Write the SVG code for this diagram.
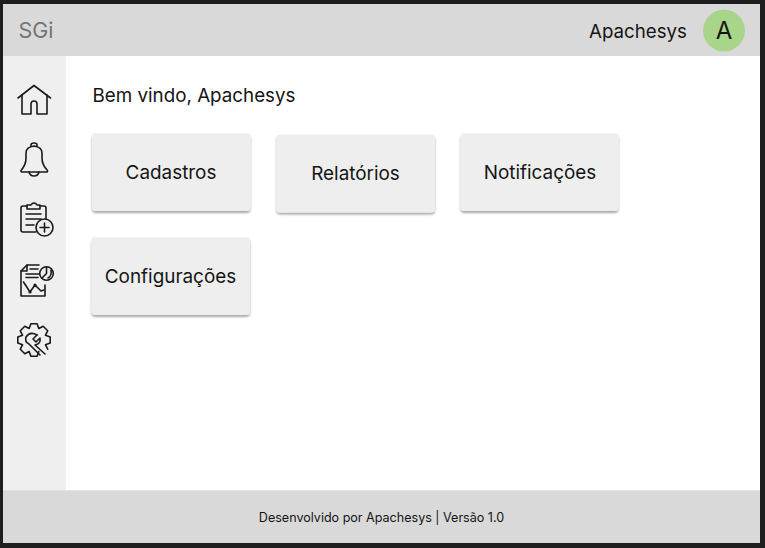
<svg xmlns="http://www.w3.org/2000/svg" width="765" height="548" viewBox="0 0 765 548">
<defs>
<filter id="sh" x="-5%" y="-5%" width="110%" height="115%"><feDropShadow dx="0" dy="2" stdDeviation="0.9" flood-color="#000" flood-opacity="0.34"/></filter>
</defs>
<style>
text{font-family:Inter,"Liberation Sans",sans-serif;fill:#151515}
.btn{fill:#eeeeee;filter:url(#sh)}
.lbl{font-size:18.900px;text-anchor:middle}
.ic{fill:none;stroke:#1a1a1a;stroke-width:1.6;stroke-linecap:round;stroke-linejoin:round}
</style>
<rect width="765" height="548" fill="#1e1e1e"/>
<rect x="3" y="4" width="757" height="539" fill="#fff"/>
<g id="sidebar"><rect x="3" y="56" width="63" height="435" fill="#efefef"/></g>
<g id="header">
<rect x="3" y="4" width="757" height="52" fill="#d9d9d9"/>
<text x="18.500" y="38" font-size="21.500" style="fill:#757575">SGi</text>
<text x="589" y="38" font-size="18.700">Apachesys</text>
<circle cx="724" cy="30.500" r="21" fill="#a9d58a"/>
<text x="724" y="39" font-size="24" text-anchor="middle">A</text>
</g>
<g id="footer">
<rect x="3" y="490" width="757" height="53" fill="#d9d9d9"/>
<rect x="3" y="490" width="757" height="1" fill="#e3e3e3"/>
<text x="381.500" y="522" font-size="12.550" text-anchor="middle">Desenvolvido por Apachesys | Versão 1.0</text>
</g>
<text id="welcome" x="92.500" y="101.500" font-size="18.800">Bem vindo, Apachesys</text>
<g id="icon-home" class="ic">
<path d="M18 98 L34 85.500 L50.500 98"/>
<path d="M22 95 V114 H31 V104 Q31 101 34 101 Q37 101 37 104 V114 H47 V95"/>
</g>
<g id="icon-bell" class="ic">
<path d="M21 170.500 Q26 165 26 158 V153 Q26 147 34 146 Q42 147 42 153 V158 Q42 165 47.500 170.500 Q48 172 46 172 H23 Q20.500 172 21 170.500Z"/>
<path d="M31 146 V145 Q31 143 34 143 Q37 143 37 145 V146"/>
<path d="M29 172 Q30 176 34 176 Q38 176 39 172"/>
</g>
<g id="icon-clipboard" class="ic">
<path d="M36 232 H23 Q21 232 21 230 V208 Q21 206 23 206 H27 M40 206 H44 Q46 206 46 208 V219"/>
<path d="M27 209 V205 H31 Q32 203 34 203 Q36 203 37 205 H40 V209 Z"/>
<path d="M26 214 H41 M26 219 H41 M26 225 H34"/>
<circle cx="44.500" cy="227.500" r="8.500"/>
<path d="M44.500 223 V232 M40 227.500 H49"/>
</g>
<g id="icon-report" class="ic">
<path d="M39 265 H27 L21 271 V296 H45 V285"/>
<path d="M21 271 H27 V265"/>
<path d="M30 269 H38 M26 274 H39 M26 277.500 H38"/>
<path d="M23.500 282 L30 292 L35 285 L41 291 L44 290"/>
<circle cx="30" cy="292" r="0.800"/>
<circle cx="35" cy="285" r="0.800"/>
<circle cx="46.500" cy="273.500" r="6.800"/>
<path d="M46.500 267 V273.500 L42 278 M51 270 Q52 276 48 278"/>
</g>
<g id="icon-gear" class="ic">
<path d="M38.800 351.500 L37.100 356.200 L30.900 356.200 L29.200 351.500 L24.800 353.700 L20.300 349.200 L22.500 344.800 L17.800 343.100 L17.800 336.900 L22.500 335.200 L20.300 330.800 L24.800 326.300 L29.200 328.500 L30.900 323.800 L37.100 323.800 L38.800 328.500 L43.200 326.300 L47.700 330.800 L45.500 335.200 L50.200 336.900 L50.200 343.100 L45.500 344.800 L47.700 349.200"/>
<path d="M37 335 L33 339 L36 342 L40 338 Q41 344 35 345 L45 354"/>
<path d="M37 335 Q30 331 26 337 Q24.500 342 29 344 L40 355"/>
</g>
<g id="btn-cadastros"><rect class="btn" x="92" y="133" width="158.500" height="78" rx="4"/><text class="lbl" x="171" y="178.500">Cadastros</text></g>
<g id="btn-relatorios"><rect class="btn" x="276.500" y="134.500" width="158.500" height="78" rx="4"/><text class="lbl" x="355.500" y="180">Relatórios</text></g>
<g id="btn-notificacoes"><rect class="btn" x="460.500" y="133" width="158" height="78" rx="4"/><text class="lbl" x="540" y="178.500">Notificações</text></g>
<g id="btn-configuracoes"><rect class="btn" x="91.500" y="237" width="158.500" height="78" rx="4"/><text class="lbl" x="170.500" y="283">Configurações</text></g>
</svg>
